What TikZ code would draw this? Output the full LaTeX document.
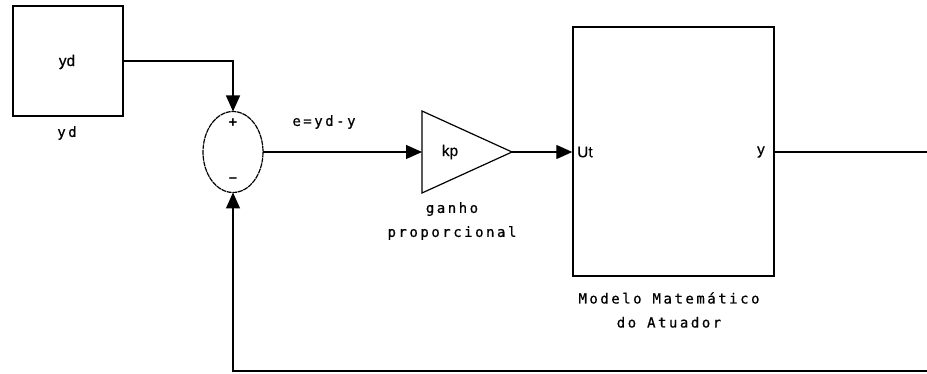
\documentclass[tikz,border=0pt]{standalone}
\usepackage{fontspec}
\setmainfont{Liberation Sans}
\newfontfamily\spaced[LetterSpace=18,FakeBold=0.7]{DejaVu Sans Mono}
\newfontfamily\inner[FakeBold=0.5]{Liberation Sans}
\usetikzlibrary{arrows.meta}
\begin{document}
\begin{tikzpicture}[x=1pt,y=-1pt,
  blockbox/.style={draw,line width=1.4pt,inner sep=0pt},
  wire/.style={line width=1.3pt},
  feed/.style={wire,-{Triangle[length=16pt,width=14pt]}},
  intext/.style={font=\inner\fontsize{15.5}{17}\selectfont,inner sep=0pt},
  caption/.style={font=\spaced\fontsize{14}{24}\selectfont,align=center,inner sep=0pt}]
\useasboundingbox (0,0) rectangle (927,374);
% reference source
\node[blockbox,minimum width=110pt,minimum height=110pt] (src) at (68,61) {};
\node[intext] (srctxt) at (67,62) {yd};
\node[caption] (srclbl) at (67,133) {yd};
% summing junction
\draw[line width=1.2pt,dash pattern=on 5pt off 0.7pt] (233,152) ellipse [x radius=30,y radius=40.5];
\coordinate (sumN) at (233,111.5);
\coordinate (sumS) at (233,192.5);
\coordinate (sumE) at (263,152);
\node[font=\bfseries\fontsize{15}{15}\selectfont,inner sep=0pt] (plus) at (233,123) {+};
\node[font=\bfseries\fontsize{15}{15}\selectfont,inner sep=0pt] (minus) at (233,180) {\textendash};
% proportional gain
\coordinate (gA) at (422,111);
\coordinate (gB) at (422,193);
\coordinate (gout) at (512,152);
\coordinate (gin) at (422,152);
\draw[line width=1.2pt,line join=miter] (gA) -- (gout) -- (gB) -- cycle;
\node[intext] (kp) at (450,152) {kp};
\node[caption] (gainlbl) at (452,221) {ganho\\proporcional};
% actuator model
\node[blockbox,minimum width=201pt,minimum height=249pt] (model) at (673.5,151.5) {};
\node[intext,anchor=west] (ut) at (577,152) {Ut};
\node[intext,anchor=east] (yout) at (765,152) {y};
\node[caption] (modellbl) at (669,310) {Modelo Matemático\\do Atuador};
% connections
\coordinate (outend) at (927,152);
\coordinate (fbstart) at (927,371);
\draw[feed] (src.east |- 0,61) -| (sumN);
\draw[feed] (sumE) -- (gin);
\node[caption] (errlbl) at (324,122) {e=yd-y};
\draw[feed] (gout) -- (model.west |- 0,152);
\draw[wire] (model.east |- 0,152) -- (outend);
\draw[feed] (fbstart) -| (sumS);
\end{tikzpicture}
\end{document}
